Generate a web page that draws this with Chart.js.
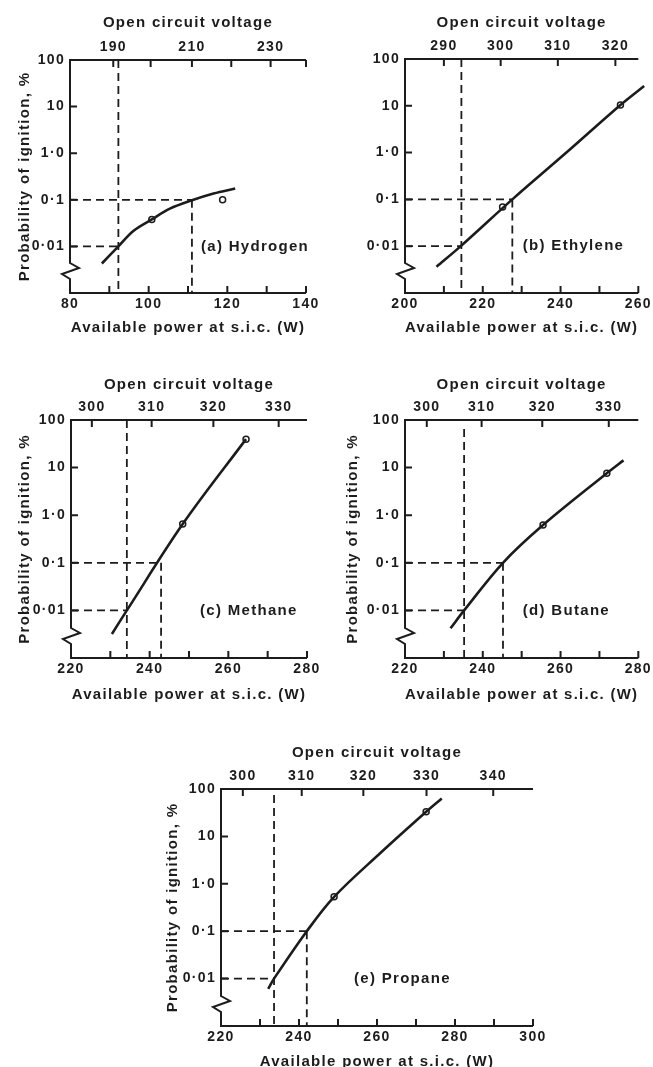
<!DOCTYPE html>
<html>
<head>
<meta charset="utf-8">
<script src="https://cdn.jsdelivr.net/npm/chart.js@4"></script>
<style>
  html, body { margin: 0; padding: 0; background: #fff; overflow: hidden; }
  body { width: 653px; height: 1067px; position: relative; }
  canvas { position: absolute; }
</style>
</head>
<body>
<canvas id="hydrogen"></canvas>
<canvas id="ethylene"></canvas>
<canvas id="methane"></canvas>
<canvas id="butane"></canvas>
<canvas id="propane"></canvas>

<script>
// probability axis, shared by all panels
const probTicks = [100, 10, 1, 0.1, 0.01];
const probLabels = ['100', '10', '1·0', '0·1', '0·01'];

// (a) Hydrogen
const h2Power = [88.1, 92.3, 96.1, 100.8, 105.4, 111.0, 116.5, 122.0];
const h2Prob = [0.0043, 0.010, 0.0215, 0.038, 0.0645, 0.0975, 0.136, 0.174];
const h2PtPower = [100.8, 118.8];
const h2PtProb = [0.038, 0.1];
const h2Guide = [92.3, 111.0];           // power at 0.01 % and 0.1 %
const h2PowerTicks = [80, 90, 100, 110, 120, 130, 140];
const h2VoltAt = [91, 100.5, 111, 121, 131, 140];
const h2VoltLabels = ['190', '', '210', '', '230', ''];

// (b) Ethylene
const ethPower = [208.1, 214.5, 227.6, 241.5, 255.4, 261.5];
const ethProb = [0.00365, 0.0103, 0.1, 1.0, 10.4, 26.5];
const ethPtPower = [225.1, 255.4];
const ethPtProb = [0.069, 10.4];
const ethGuide = [214.5, 227.6];
const ethPowerTicks = [200, 210, 220, 230, 240, 250, 260];
const ethVoltAt = [210.0, 224.6, 239.3, 254.1];
const ethVoltLabels = ['290', '300', '310', '320'];

// (c) Methane
const ch4Power = [230.4, 234.2, 248.4, 264.5];
const ch4Prob = [0.0032, 0.01, 0.65, 39.6];
const ch4PtPower = [248.4, 264.5];
const ch4PtProb = [0.65, 39.6];
const ch4Guide = [234.2, 242.9];
const ch4PowerTicks = [220, 230, 240, 250, 260, 270, 280];
const ch4VoltAt = [225.3, 240.5, 256.2, 272.8];
const ch4VoltLabels = ['300', '310', '320', '330'];

// (d) Butane
const c4Power = [231.7, 235.2, 245.2, 255.5, 271.9, 276.2];
const c4Prob = [0.0042, 0.01, 0.1, 0.62, 7.6, 14.2];
const c4PtPower = [255.5, 271.9];
const c4PtProb = [0.62, 7.6];
const c4Guide = [235.2, 245.2];
const c4PowerTicks = [220, 230, 240, 250, 260, 270, 280];
const c4VoltAt = [225.6, 239.7, 255.3, 272.4];
const c4VoltLabels = ['300', '310', '320', '330'];

// (e) Propane
const c3Power = [232.1, 233.6, 242.0, 249.0, 260.8, 272.6, 276.6];
const c3Prob = [0.0061, 0.01, 0.1, 0.53, 4.4, 33, 63];
const c3PtPower = [249.0, 272.6];
const c3PtProb = [0.53, 33];
const c3Guide = [233.6, 242.0];
const c3PowerTicks = [220, 230, 240, 250, 260, 270, 280, 290, 300];
const c3VoltAt = [225.6, 240.7, 256.5, 272.7, 289.8];
const c3VoltLabels = ['300', '310', '320', '330', '340'];

const INK = '#1c1c1c';
const FAMILY = "'Liberation Sans', Arial, sans-serif";
const TICK_FONT = { family: FAMILY, size: 14, weight: 'bold' };
const TITLE_FONT = { family: FAMILY, size: 15, weight: 'bold' };
const HALF_LINE = TITLE_FONT.size * 1.2 / 2;
const PROB_MIN = 0.001;

const xy = (xs, ys) => xs.map((v, i) => ({ x: v, y: ys[i] }));

// axis frame: top/bottom lines, broken left axis, inward ticks, panel caption
const framePlugin = {
  id: 'frame',
  beforeDraw(chart) {
    chart.ctx.letterSpacing = '1.3px';
  },
  beforeDatasetsDraw(chart) {
    const { ctx, chartArea: { left, right, top, bottom }, scales: { x, x2, y } } = chart;
    const tl = 7;
    ctx.save();
    ctx.strokeStyle = INK;
    ctx.lineWidth = 2;
    ctx.lineJoin = 'miter';
    ctx.beginPath();
    ctx.moveTo(right, top);
    ctx.lineTo(left, top);
    const zy = bottom - 22;
    ctx.lineTo(left, zy - 8);
    ctx.lineTo(left + 9, zy - 3);
    ctx.lineTo(left - 8, zy + 3);
    ctx.lineTo(left, zy + 8);
    ctx.lineTo(left, bottom);
    ctx.lineTo(right, bottom);
    ctx.stroke();

    ctx.beginPath();
    x.ticks.slice(1).forEach(t => {
      const px = x.getPixelForValue(t.value);
      ctx.moveTo(px, bottom); ctx.lineTo(px, bottom - tl);
    });
    x2.ticks.forEach(t => {
      const px = x2.getPixelForValue(t.value);
      ctx.moveTo(px, top); ctx.lineTo(px, top + tl);
    });
    y.ticks.forEach(t => {
      const py = y.getPixelForValue(t.value);
      ctx.moveTo(left, py); ctx.lineTo(left + tl, py);
    });
    ctx.stroke();
    ctx.restore();
  },
  afterDatasetsDraw(chart, args, opts) {
    const { ctx, scales: { x, y } } = chart;
    ctx.save();
    ctx.fillStyle = INK;
    ctx.font = `bold ${TITLE_FONT.size}px ${FAMILY}`;
    ctx.textAlign = 'left';
    ctx.textBaseline = 'middle';
    ctx.fillText(opts.caption, x.getPixelForValue(opts.captionAt), y.getPixelForValue(0.01));
    ctx.restore();
  }
};

function makePanel(id, p) {
  const cv = document.getElementById(id);
  const [bl, bt, bw, bh] = p.box;
  const [pl, pt, pr, pb] = p.plot;
  cv.width = bw; cv.height = bh;
  cv.style.left = bl + 'px';
  cv.style.top = bt + 'px';

  const dash = { borderColor: INK, borderWidth: 1.8, borderDash: [8, 5], pointRadius: 0, tension: 0, fill: false };
  const datasets = [
    { ...dash, data: [{ x: p.xMin, y: 0.01 }, { x: p.guide[0], y: 0.01 }] },
    { ...dash, data: [{ x: p.guide[0], y: p.guideTop }, { x: p.guide[0], y: PROB_MIN }] },
    { ...dash, data: [{ x: p.xMin, y: 0.1 }, { x: p.guide[1], y: 0.1 }] },
    { ...dash, data: [{ x: p.guide[1], y: 0.1 }, { x: p.guide[1], y: PROB_MIN }] },
    {
      data: xy(p.power, p.prob), borderColor: INK, borderWidth: 2.6,
      pointRadius: 0, tension: 0.35, fill: false, clip: false
    },
    {
      data: xy(p.ptPower, p.ptProb), showLine: false, pointRadius: 3,
      pointBorderWidth: 1.5, pointBorderColor: INK, pointBackgroundColor: '#fff', clip: false
    }
  ];

  new Chart(cv, {
    type: 'line',
    data: { datasets },
    plugins: [framePlugin],
    options: {
      responsive: false,
      animation: false,
      devicePixelRatio: 1,
      layout: { padding: { left: 0, top: 0, bottom: 0, right: bl + bw - pr } },
      plugins: {
        legend: { display: false },
        tooltip: { enabled: false },
        frame: { caption: p.caption, captionAt: p.captionAt }
      },
      scales: {
        x: {
          type: 'linear', position: 'bottom', min: p.xMin, max: p.xMax,
          afterBuildTicks: s => { s.ticks = p.xTicks.map(v => ({ value: v })); },
          afterFit: s => { s.height = bt + bh - pb; },
          grid: { display: false, drawTicks: false },
          border: { display: false },
          ticks: {
            autoSkip: false, maxRotation: 0, padding: 3, color: INK, font: TICK_FONT,
            callback: (v, i) => (i % 2 === 0 ? String(v) : '')
          },
          title: {
            display: true, text: 'Available power at s.i.c. (W)', color: INK, font: TITLE_FONT,
            padding: { top: 0, bottom: bt + bh - p.bottomTitleY - HALF_LINE }
          }
        },
        x2: {
          type: 'linear', axis: 'x', position: 'top', min: p.xMin, max: p.xMax,
          afterBuildTicks: s => { s.ticks = p.voltAt.map(v => ({ value: v })); },
          afterFit: s => { s.height = pt - bt; },
          grid: { display: false, drawTicks: false },
          border: { display: false },
          ticks: {
            autoSkip: false, maxRotation: 0, padding: 4, color: INK, font: TICK_FONT,
            callback: (v, i) => p.voltLabels[i]
          },
          title: {
            display: true, text: 'Open circuit voltage', color: INK, font: TITLE_FONT,
            padding: { top: p.topTitleY - bt - HALF_LINE, bottom: 0 }
          }
        },
        y: {
          type: 'logarithmic', position: 'left', min: PROB_MIN, max: 100,
          afterBuildTicks: s => { s.ticks = probTicks.map(v => ({ value: v })); },
          afterFit: s => { s.width = pl - bl; },
          grid: { display: false, drawTicks: false },
          border: { display: false },
          ticks: {
            autoSkip: false, padding: 5, color: INK, font: TICK_FONT,
            callback: (v, i) => probLabels[i]
          },
          title: {
            display: p.yTitleX != null, text: 'Probability of ignition, %', color: INK, font: TITLE_FONT,
            padding: { top: (p.yTitleX || 0) - bl - HALF_LINE, bottom: 0 }
          }
        }
      }
    }
  });
}

makePanel('hydrogen', {
  box: [0, 0, 326, 340], plot: [70, 60, 306, 293],
  topTitleY: 23, bottomTitleY: 328, yTitleX: 25,
  xMin: 80, xMax: 140, xTicks: h2PowerTicks, voltAt: h2VoltAt, voltLabels: h2VoltLabels,
  power: h2Power, prob: h2Prob, ptPower: h2PtPower, ptProb: h2PtProb,
  guide: h2Guide, guideTop: 100, caption: '(a) Hydrogen', captionAt: 113.3
});

makePanel('ethylene', {
  box: [326, 0, 327, 340], plot: [405, 59, 640, 293],
  topTitleY: 23, bottomTitleY: 328, yTitleX: null,
  xMin: 200, xMax: 260, xTicks: ethPowerTicks, voltAt: ethVoltAt, voltLabels: ethVoltLabels,
  power: ethPower, prob: ethProb, ptPower: ethPtPower, ptProb: ethPtProb,
  guide: ethGuide, guideTop: 100, caption: '(b) Ethylene', captionAt: 230.3
});

makePanel('methane', {
  box: [0, 350, 326, 360], plot: [71, 420, 307, 658],
  topTitleY: 385, bottomTitleY: 695, yTitleX: 25,
  xMin: 220, xMax: 280, xTicks: ch4PowerTicks, voltAt: ch4VoltAt, voltLabels: ch4VoltLabels,
  power: ch4Power, prob: ch4Prob, ptPower: ch4PtPower, ptProb: ch4PtProb,
  guide: ch4Guide, guideTop: 100, caption: '(c) Methane', captionAt: 252.8
});

makePanel('butane', {
  box: [326, 350, 327, 360], plot: [405, 420, 640, 658],
  topTitleY: 385, bottomTitleY: 695, yTitleX: 353,
  xMin: 220, xMax: 280, xTicks: c4PowerTicks, voltAt: c4VoltAt, voltLabels: c4VoltLabels,
  power: c4Power, prob: c4Prob, ptPower: c4PtPower, ptProb: c4PtProb,
  guide: c4Guide, guideTop: 65, caption: '(d) Butane', captionAt: 250.3
});

makePanel('propane', {
  box: [140, 715, 413, 360], plot: [221, 789, 533, 1026],
  topTitleY: 753, bottomTitleY: 1062, yTitleX: 173,
  xMin: 220, xMax: 300, xTicks: c3PowerTicks, voltAt: c3VoltAt, voltLabels: c3VoltLabels,
  power: c3Power, prob: c3Prob, ptPower: c3PtPower, ptProb: c3PtProb,
  guide: c3Guide, guideTop: 75, caption: '(e) Propane', captionAt: 254.1
});
</script>
</body>
</html>
